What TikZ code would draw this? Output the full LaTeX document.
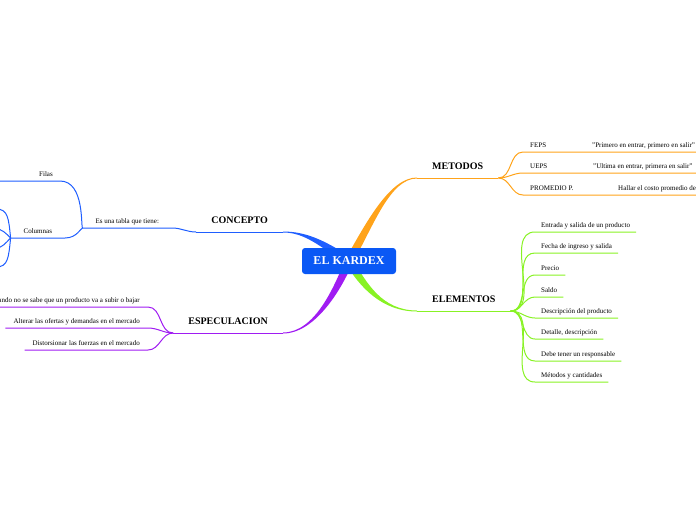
\documentclass[tikz,border=0pt]{standalone}
\usepackage{fontspec}
\setmainfont{Liberation Serif}
\usetikzlibrary{calc,backgrounds}

\definecolor{kboxblue}{HTML}{0A58F5}
\definecolor{kblue}{HTML}{1F5EFF}
\definecolor{korange}{HTML}{FFA31A}
\definecolor{kgreen}{HTML}{88F224}
\definecolor{kpurple}{HTML}{A01CF2}

% tapered main branch: colour, from, control 1, control 2, to, half width at start, half width at end
\newcommand{\limb}[7]{%
  \fill[#1] ($(#2)+(#6)$) .. controls ($(#3)+(#6)$) and ($(#4)+(#7)$) .. ($(#5)+(#7)$)
    -- ($(#5)-(#7)$) .. controls ($(#4)-(#7)$) and ($(#3)-(#6)$) .. ($(#2)-(#6)$) -- cycle;}
% method row: label, gap, text
\newcommand{\mrow}[3]{\makebox[166pt][l]{\makebox[#2][l]{#1}#3}}

\begin{document}
\begin{tikzpicture}[x=1pt,y=-1pt,
  topic/.style={font=\fontsize{10}{12}\selectfont\bfseries,inner xsep=15pt,inner ysep=0pt,text height=7pt,text depth=8.5pt},
  leaf/.style={font=\fontsize{7}{8}\selectfont,inner xsep=6pt,inner ysep=0pt,text height=5pt,text depth=4.5pt},
  mleaf/.style={leaf,anchor=south west,inner xsep=7pt},
  link/.style={line width=1pt}]
\useasboundingbox (0,0) rectangle (696,520);

% centre
\node[fill=kboxblue,text=white,rounded corners=3pt,minimum width=94pt,minimum height=26pt,inner sep=0pt,
      font=\fontsize{12}{14}\selectfont\bfseries] (kardex) at (349,261) {EL KARDEX};

% main topics
\node[topic,anchor=south east] (concepto)  at (283,232) {CONCEPTO};
\node[topic,anchor=south west] (metodos)   at (417,178) {METODOS};
\node[topic,anchor=south west] (elementos) at (417,311) {ELEMENTOS};
\node[topic,anchor=south east] (espec)     at (283,333) {ESPECULACION};

\begin{scope}[on background layer]
\limb{kblue}  {kardex.center}{322,243}{305,232}{concepto.south east} {-2.2,3.3}{0,0.5}
\limb{korange}{kardex.center}{370,224}{390,178}{metodos.south west}  {-3.5,-2} {0,-0.5}
\limb{kgreen} {kardex.center}{363,285}{382,311}{elementos.south west}{3.5,-2}  {0,-0.5}
\limb{kpurple}{kardex.center}{338,288}{315,333}{espec.south east}    {3.75,1.4}{0,0.5}
\end{scope}

\draw[link,kblue]   (concepto.south west)  -- (concepto.south east);
\draw[link,korange] (metodos.south west)   -- (metodos.south east);
\draw[link,kgreen]  (elementos.south west) -- (elementos.south east);
\draw[link,kpurple] (espec.south west)     -- (espec.south east);

% concepto
\node[leaf,anchor=south east,minimum width=89pt] (c_0) at (172,228) {Es una tabla que tiene:};
\node[leaf,anchor=south east,inner xsep=7pt]     (c_1) at (60,181)  {Filas};
\node[leaf,anchor=south east,minimum width=54pt] (c_2) at (65,238)  {Columnas};
\coordinate (c_1end) at (-5,181);
\coordinate (x_0) at (-4,209);
\coordinate (x_1) at (-4,229);
\coordinate (x_2) at (-4,248);
\coordinate (x_3) at (-4,267);

\draw[link,kblue] (concepto.south west) to[out=180,in=0] (c_0.south east) -- (c_0.south west);
\draw[link,kblue] (c_0.south west) .. controls +(-2,0) and +(25,0) .. (c_1.south east) -- (c_1end);
\draw[link,kblue] (c_0.south west) .. controls +(-2,0) and +(12,0) .. (c_2.south east) -- (c_2.south west);
\draw[link,kblue] (c_2.south west) .. controls +(-2,-20) and +(12,0) .. (x_0);
\draw[link,kblue] (c_2.south west) .. controls +(-5,-5) and +(6,0) .. (x_1);
\draw[link,kblue] (c_2.south west) .. controls +(-5,5) and +(6,0) .. (x_2);
\draw[link,kblue] (c_2.south west) .. controls +(-2,20) and +(12,0) .. (x_3);

% metodos
\node[mleaf] (m_0) at (523,152) {\mrow{FEPS}{62pt}{"Primero en entrar, primero en salir"}};
\node[mleaf] (m_1) at (523,173) {\mrow{UEPS}{63pt}{"Ultima en entrar, primera en salir"}};
\node[mleaf] (m_2) at (523,195) {\mrow{PROMEDIO P.}{88pt}{Hallar el costo promedio de}};

\draw[link,korange] (metodos.south east) to[out=0,in=180] (m_0.south west) -- (m_0.south east);
\draw[link,korange] (metodos.south east) to[out=0,in=180] (m_1.south west) -- (m_1.south east);
\draw[link,korange] (metodos.south east) to[out=0,in=180] (m_2.south west) -- (m_2.south east);

% elementos
\node[leaf,anchor=south west] (e_0) at (535,232) {Entrada y salida de un producto};
\node[leaf,anchor=south west] (e_1) at (535,253) {Fecha de ingreso y salida};
\node[leaf,anchor=south west] (e_2) at (535,275) {Precio};
\node[leaf,anchor=south west] (e_3) at (535,297) {Saldo};
\node[leaf,anchor=south west] (e_4) at (535,318) {Descripción del producto};
\node[leaf,anchor=south west] (e_5) at (535,339) {Detalle, descripción};
\node[leaf,anchor=south west] (e_6) at (535,361) {Debe tener un responsable};
\node[leaf,anchor=south west] (e_7) at (535,382) {Métodos y cantidades};

\draw[link,kgreen] (elementos.south east) to[out=0,in=180] (e_0.south west) -- (e_0.south east);
\draw[link,kgreen] (elementos.south east) to[out=0,in=180] (e_1.south west) -- (e_1.south east);
\draw[link,kgreen] (elementos.south east) to[out=0,in=180] (e_2.south west) -- (e_2.south east);
\draw[link,kgreen] (elementos.south east) to[out=0,in=180] (e_3.south west) -- (e_3.south east);
\draw[link,kgreen] (elementos.south east) to[out=0,in=180] (e_4.south west) -- (e_4.south east);
\draw[link,kgreen] (elementos.south east) to[out=0,in=180] (e_5.south west) -- (e_5.south east);
\draw[link,kgreen] (elementos.south east) to[out=0,in=180] (e_6.south west) -- (e_6.south east);
\draw[link,kgreen] (elementos.south east) to[out=0,in=180] (e_7.south west) -- (e_7.south east);

% especulacion
\node[leaf,anchor=south east,inner xsep=8pt] (s_0) at (148,307) {Cuando no se sabe que un producto va a subir o bajar};
\node[leaf,anchor=south east,inner xsep=8pt] (s_1) at (148,328) {Alterar las ofertas y demandas en el mercado};
\node[leaf,anchor=south east,inner xsep=8pt] (s_2) at (148,350) {Distorsionar las fuerzas en el mercado};

\draw[link,kpurple] (espec.south west) to[out=180,in=0] (s_0.south east) -- (s_0.south west);
\draw[link,kpurple] (espec.south west) to[out=180,in=0] (s_1.south east) -- (s_1.south west);
\draw[link,kpurple] (espec.south west) to[out=180,in=0] (s_2.south east) -- (s_2.south west);
\end{tikzpicture}
\end{document}
